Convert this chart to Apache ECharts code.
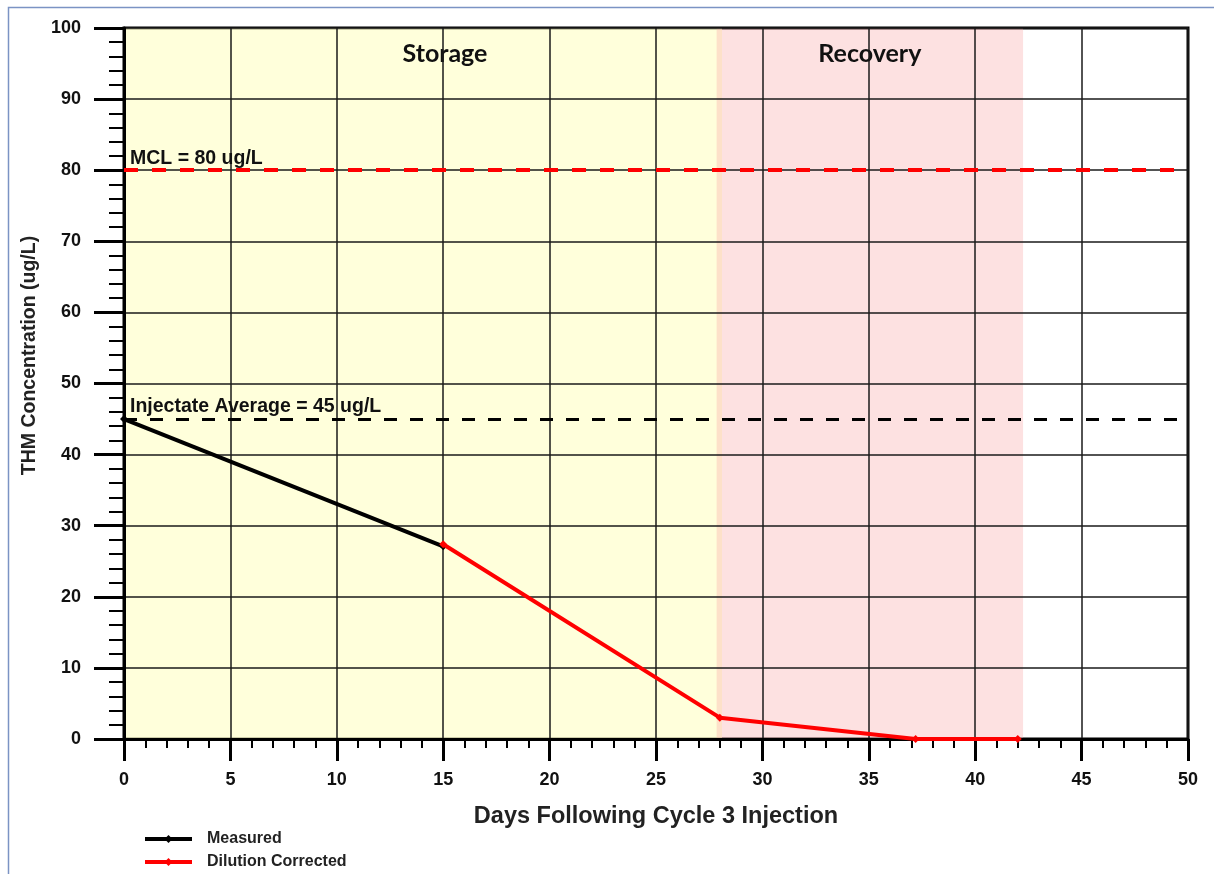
<!DOCTYPE html>
<html>
<head>
<meta charset="utf-8">
<script src="https://cdn.jsdelivr.net/npm/echarts@6/dist/echarts.min.js"></script>
<style>
  html, body { margin: 0; padding: 0; background: #fff; }
  #chart { width: 1214px; height: 874px; }
</style>
</head>
<body>
<div id="chart"></div>
<script>
// THM concentration after cycle 3 injection
const measuredDays = [0, 15];
const measuredValues = [45, 27.1];
const correctedDays = [15, 28, 37.2, 42];
const correctedValues = [27.4, 3.0, 0.0, 0.0];

const mclValue = 80;
const injectateAvg = 45;

const storagePeriod = [0, 28.1];
const recoveryPeriod = [27.85, 42.25];

const xTicks = [0, 5, 10, 15, 20, 25, 30, 35, 40, 45, 50];
const yTicks = [0, 10, 20, 30, 40, 50, 60, 70, 80, 90, 100];

const pairs = (xs, ys) => xs.map((x, i) => [x, ys[i]]);

const chart = echarts.init(document.getElementById('chart'), null, { renderer: 'canvas' });

const axisFont = { fontFamily: 'Liberation Sans, Arial, sans-serif', fontWeight: 'bold', color: '#111' };

chart.setOption({
  animation: false,
  backgroundColor: '#fff',
  graphic: [{
    type: 'rect',
    left: 6, top: 5,
    shape: { width: 1220, height: 900 },
    style: { fill: 'none', stroke: '#7b93c4', lineWidth: 1.5 },
    silent: true
  }],
  grid: {
    left: 124, right: 26, top: 28, bottom: 135,
    show: true, borderColor: '#000', borderWidth: 3, backgroundColor: 'transparent'
  },
  legend: {
    orient: 'vertical',
    left: 143, top: 831, padding: 0,
    itemWidth: 47, itemHeight: 10, itemGap: 7,
    data: ['Measured', 'Dilution Corrected'],
    lineStyle: { width: 4 },
    textStyle: { ...axisFont, fontSize: 16, color: '#222', padding: [0, 0, 0, 10] }
  },
  xAxis: {
    type: 'value', min: xTicks[0], max: xTicks[xTicks.length - 1], interval: 5,
    z: 2,
    name: 'Days Following Cycle 3 Injection',
    nameLocation: 'middle', nameGap: 66,
    nameTextStyle: { ...axisFont, fontSize: 23.5, color: '#222' },
    axisLine: { show: true, lineStyle: { color: '#000', width: 3 } },
    axisTick: { show: true, length: 22, lineStyle: { color: '#000', width: 3 } },
    minorTick: { show: true, splitNumber: 5, length: 9, lineStyle: { color: '#000', width: 2 } },
    axisLabel: { ...axisFont, fontSize: 18, margin: 32 },
    splitLine: { show: true, lineStyle: { color: '#1a1a1a', width: 1.5 } }
  },
  yAxis: {
    type: 'value', min: yTicks[0], max: yTicks[yTicks.length - 1], interval: 10,
    z: 2,
    name: 'THM Concentration (ug/L)',
    nameLocation: 'middle', nameGap: 84, nameRotate: 90,
    nameTextStyle: { ...axisFont, fontSize: 19.5, color: '#222', padding: [0, 0, 0, 56] },
    axisLine: { show: true, lineStyle: { color: '#000', width: 3 } },
    axisTick: { show: true, length: 30, lineStyle: { color: '#000', width: 3 } },
    minorTick: { show: true, splitNumber: 5, length: 15, lineStyle: { color: '#000', width: 2 } },
    axisLabel: { ...axisFont, fontSize: 18, margin: 43 },
    splitLine: { show: true, lineStyle: { color: '#1a1a1a', width: 1.5 } }
  },
  series: [
    {
      // shaded phases of the cycle
      name: 'phases', type: 'line', data: [], z: 1, silent: true,
      markArea: {
        silent: true,
        label: { position: 'insideTop', distance: 13, fontFamily: 'Lato, Open Sans, sans-serif', fontWeight: 'bold', fontSize: 25, color: '#111' },
        data: [
          [{ name: 'Storage', xAxis: storagePeriod[0], yAxis: 0, itemStyle: { color: 'rgba(255,255,195,0.6)' }, label: { offset: [22, 0] } },
           { xAxis: storagePeriod[1], yAxis: 100 }],
          [{ name: 'Recovery', xAxis: recoveryPeriod[0], yAxis: 0, itemStyle: { color: 'rgba(250,165,165,0.33)' } },
           { xAxis: recoveryPeriod[1], yAxis: 100 }]
        ]
      }
    },
    {
      name: 'Measured', type: 'line',
      data: pairs(measuredDays, measuredValues),
      symbol: 'diamond', symbolSize: 8,
      lineStyle: { color: '#000', width: 4 },
      itemStyle: { color: '#000' },
      z: 3,
      markLine: {
        silent: true, symbol: 'none',
        lineStyle: { color: '#000', width: 3, type: [13, 13] },
        label: { position: 'insideStartTop', distance: [6, 2], fontFamily: 'Liberation Sans, Arial, sans-serif', fontWeight: 'bold', fontSize: 19.5, color: '#111' },
        data: [{ yAxis: injectateAvg, label: { formatter: 'Injectate Average = ' + injectateAvg + ' ug/L' } }]
      }
    },
    {
      name: 'Dilution Corrected', type: 'line',
      data: pairs(correctedDays, correctedValues),
      symbol: 'diamond', symbolSize: 8,
      lineStyle: { color: '#ff0000', width: 4 },
      itemStyle: { color: '#ff0000' },
      z: 4,
      markLine: {
        silent: true, symbol: 'none',
        lineStyle: { color: '#ff0000', width: 4, type: [14, 14] },
        label: { position: 'insideStartTop', distance: [6, 2], fontFamily: 'Liberation Sans, Arial, sans-serif', fontWeight: 'bold', fontSize: 19.5, color: '#111' },
        data: [{ yAxis: mclValue, label: { formatter: 'MCL = ' + mclValue + ' ug/L' } }]
      }
    }
  ]
});
</script>
</body>
</html>
